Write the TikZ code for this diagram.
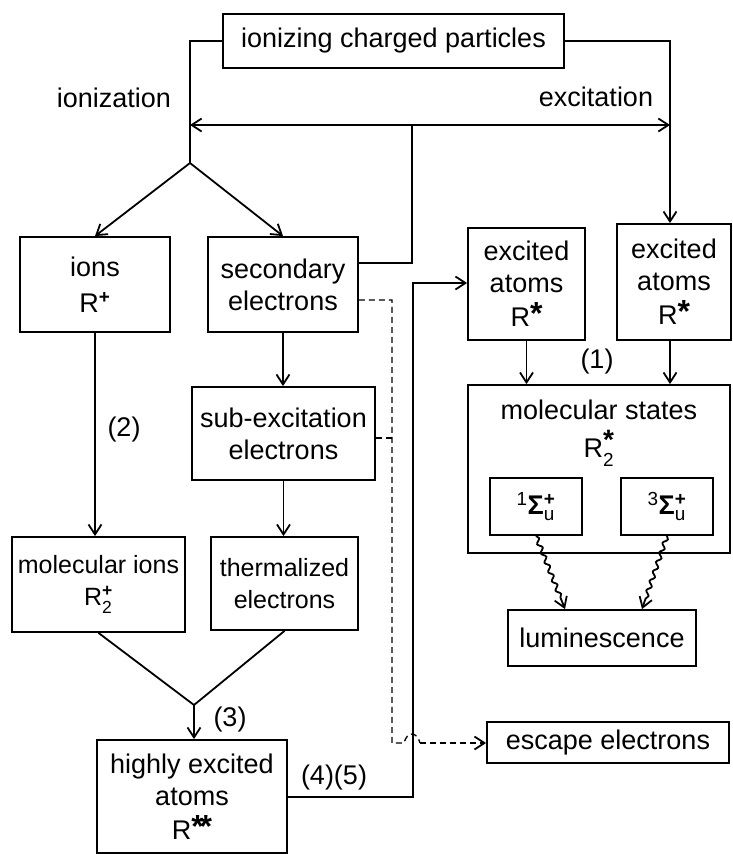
\documentclass[tikz,border=0pt]{standalone}
\usepackage{amsmath}
\usepackage{fontspec}
\setmainfont{Liberation Sans}
\usetikzlibrary{arrows.meta}
\usetikzlibrary{decorations.pathmorphing}

\tikzset{
  box/.style={draw, line width=1.8pt, align=center, inner sep=2pt},
  arr/.style={-{Straight Barb[length=10pt,width=13pt,line width=1.8pt]}},
  dsh/.style={line width=1.3pt, dash pattern=on 6pt off 4pt},
  wave/.style={decorate, decoration={snake, amplitude=2pt, segment length=10pt, post length=9pt}},
}
\newcommand{\Star}{\raisebox{2pt}{\fontsize{32}{32}\selectfont\bfseries *}}
\newcommand{\StarS}{\raisebox{-5pt}{\fontsize{28}{28}\selectfont\bfseries *}}
\newcommand{\Rss}[2]{R$_{\text{2}}^{\text{#2}}$}
\newcommand{\Sig}[1]{$^{\text{#1}}$\textbf{Σ}$_{\text{u}}^{\text{\textbf{+}}}$}

\begin{document}
\begin{tikzpicture}[x=1pt, y=-1pt, line width=1.8pt, font=\fontsize{27}{32}\selectfont]
        \useasboundingbox (0,0) rectangle (733,854);

        \node[box, minimum width=341, minimum height=54] (P) at (393.5,41) {ionizing charged particles};
        \node[box, minimum width=150, minimum height=95] (ions) at (95,284.5) {ions\\[4pt]R\textsuperscript{\textbf{+}}};
        \node[box, minimum width=150, minimum height=95] (sec) at (283,284.5) {secondary\\electrons};
        \node[box, minimum width=117, minimum height=112] (ex1) at (526.5,284) {excited\\atoms\\[2pt]R\Star};
        \node[box, minimum width=114, minimum height=116] (ex2) at (674,282) {excited\\atoms\\[2pt]R\Star};
        \node[box, minimum width=183, minimum height=93] (sub) at (283.5,433.5) {sub-excitation\\electrons};
        \node[box, minimum width=262, minimum height=168, label={[anchor=north, align=center, yshift=-12pt]north:molecular states\\[6pt]\Rss{2}{\StarS}}] (mol) at (599,469) {};
        \node[box, minimum width=92, minimum height=57] (s1) at (536,506.5) {\Sig{1}};
        \node[box, minimum width=92, minimum height=57] (s2) at (667,506.5) {\Sig{3}};
        \node[box, minimum width=173, minimum height=95, font=\fontsize{25}{32}\selectfont] (molion) at (98.5,584.5) {molecular ions\\\Rss{2}{\textbf{+}}};
        \node[box, minimum width=147, minimum height=93, font=\fontsize{25}{32}\selectfont] (therm) at (284.5,583.5) {thermalized\\electrons};
        \node[box, minimum width=188, minimum height=56] (lum) at (602,638) {luminescence};
        \node[box, minimum width=242, minimum height=41] (esc) at (608,742.5) {escape electrons};
        \node[box, minimum width=190, minimum height=113] (high) at (192,796.5) {highly excited\\atoms\\[2pt]R\Star\kern-4pt\Star};

        \node (ionz) at (114,98) {ionization};
        \node (excz) at (596,97) {excitation};
        \node (n1) at (597,362) {(1)};
        \node (n2) at (124,430) {(2)};
        \node (n3) at (230,720) {(3)};
        \node (n45) at (334,778) {(4)(5)};

        \coordinate (J) at (190,163);
        \coordinate (L) at (190,125);
        \coordinate (M) at (412,125);
        \coordinate (Rr) at (670,125);
        \coordinate (K) at (194,705);
        \coordinate (T) at (413,283);
        \coordinate (B) at (413,797);
        \coordinate (D1) at (392,300);
        \coordinate (D2) at (392,743);
        \coordinate (D3) at (392,438);

        % ionization / excitation
        \draw (P.west) -| (J);
        \draw[arr] (J) -- (ions.north);
        \draw[arr] (J) -- (sec.north);
        \draw (P.east) -| (Rr);
        \draw[arr] (Rr) -- (Rr |- ex2.north);
        \draw (sec.east |- 0,263) -| (M);
        \draw[arr] (M) -- (L);
        \draw[arr] (M) -- (Rr);

        % left branch
        \draw[arr] (ions.south) -- (ions.south |- molion.north);
        \draw[arr] (sec.south) -- (sec.south |- sub.north);
        \draw[arr] (sub.south) -- (sub.south |- therm.north);
        \draw (molion.south) -- (K) -- (therm.south);
        \draw[arr] (K) -- (K |- high.north);
        \draw[arr] (high.east |- B) -- (B) -- (T) -- (ex1.west |- T);

        % escape
        \draw[dsh] (sec.east |- D1) -- (D1) -- (D2) -- ++(12,0) .. controls +(3,-12) and +(-3,-12) .. ++(16,0) coordinate (D4);
        \draw[dsh, arr] (D4) -- (esc.west |- D4);
        \draw[dsh] (sub.east |- D3) -- (D3);

        % right branch
        \draw[arr] (ex1.south) -- (ex1.south |- mol.north);
        \draw[arr] (ex2.south -| Rr) -- (Rr |- mol.north);
        \draw[arr, wave] (s1.south) -- (lum.north -| 565,0);
        \draw[arr, wave] (s2.south) -- (lum.north -| 642,0);
    \end{tikzpicture}
\end{document}
